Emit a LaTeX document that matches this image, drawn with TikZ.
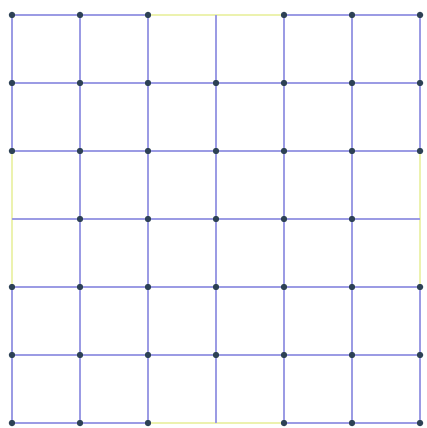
\documentclass[tikz,border=0pt]{standalone}
\usepackage{tikz}
\definecolor{gridblue}{RGB}{155,155,228}
\definecolor{rimyellow}{RGB}{236,242,175}
\definecolor{dotslate}{RGB}{45,65,85}

\begin{document}
\begin{tikzpicture}[
  x=68pt, y=68pt,
  vertex/.style={circle, fill=dotslate, inner sep=0pt, minimum size=6.5pt},
  link/.style={draw=gridblue, line width=1.5pt},
  rim/.style={draw=rimyellow, line width=1.6pt},
]
\useasboundingbox (-12pt,-5pt) rectangle (414pt,423pt);
% grid points, the middle of each side has no dot
\foreach \i in {0,...,6}
  \foreach \j in {0,...,6} {
    \pgfmathtruncatemacro\gap{(\i==3)*((\j==0)+(\j==6)) + (\j==3)*((\i==0)+(\i==6))}
    \ifnum\gap>0
      \coordinate (v-\i-\j) at (\i,\j);
    \else
      \node[vertex] (v-\i-\j) at (\i,\j) {};
    \fi
  }
% rim segments beside the side midpoints
\foreach \i in {2,3} {
  \pgfmathtruncatemacro\n{\i+1}
  \draw[rim] (v-\i-0) -- (v-\n-0);
  \draw[rim] (v-\i-6) -- (v-\n-6);
  \draw[rim] (v-0-\i) -- (v-0-\n);
  \draw[rim] (v-6-\i) -- (v-6-\n);
}
% the rest of the grid
\foreach \i in {0,...,5}
  \foreach \j in {0,...,6} {
    \pgfmathtruncatemacro\n{\i+1}
    \pgfmathtruncatemacro\side{((\j==0)+(\j==6))*((\i==2)+(\i==3))}
    \ifnum\side=0
      \draw[link] (v-\i-\j) -- (v-\n-\j);
      \draw[link] (v-\j-\i) -- (v-\j-\n);
    \fi
  }
\end{tikzpicture}
\end{document}
